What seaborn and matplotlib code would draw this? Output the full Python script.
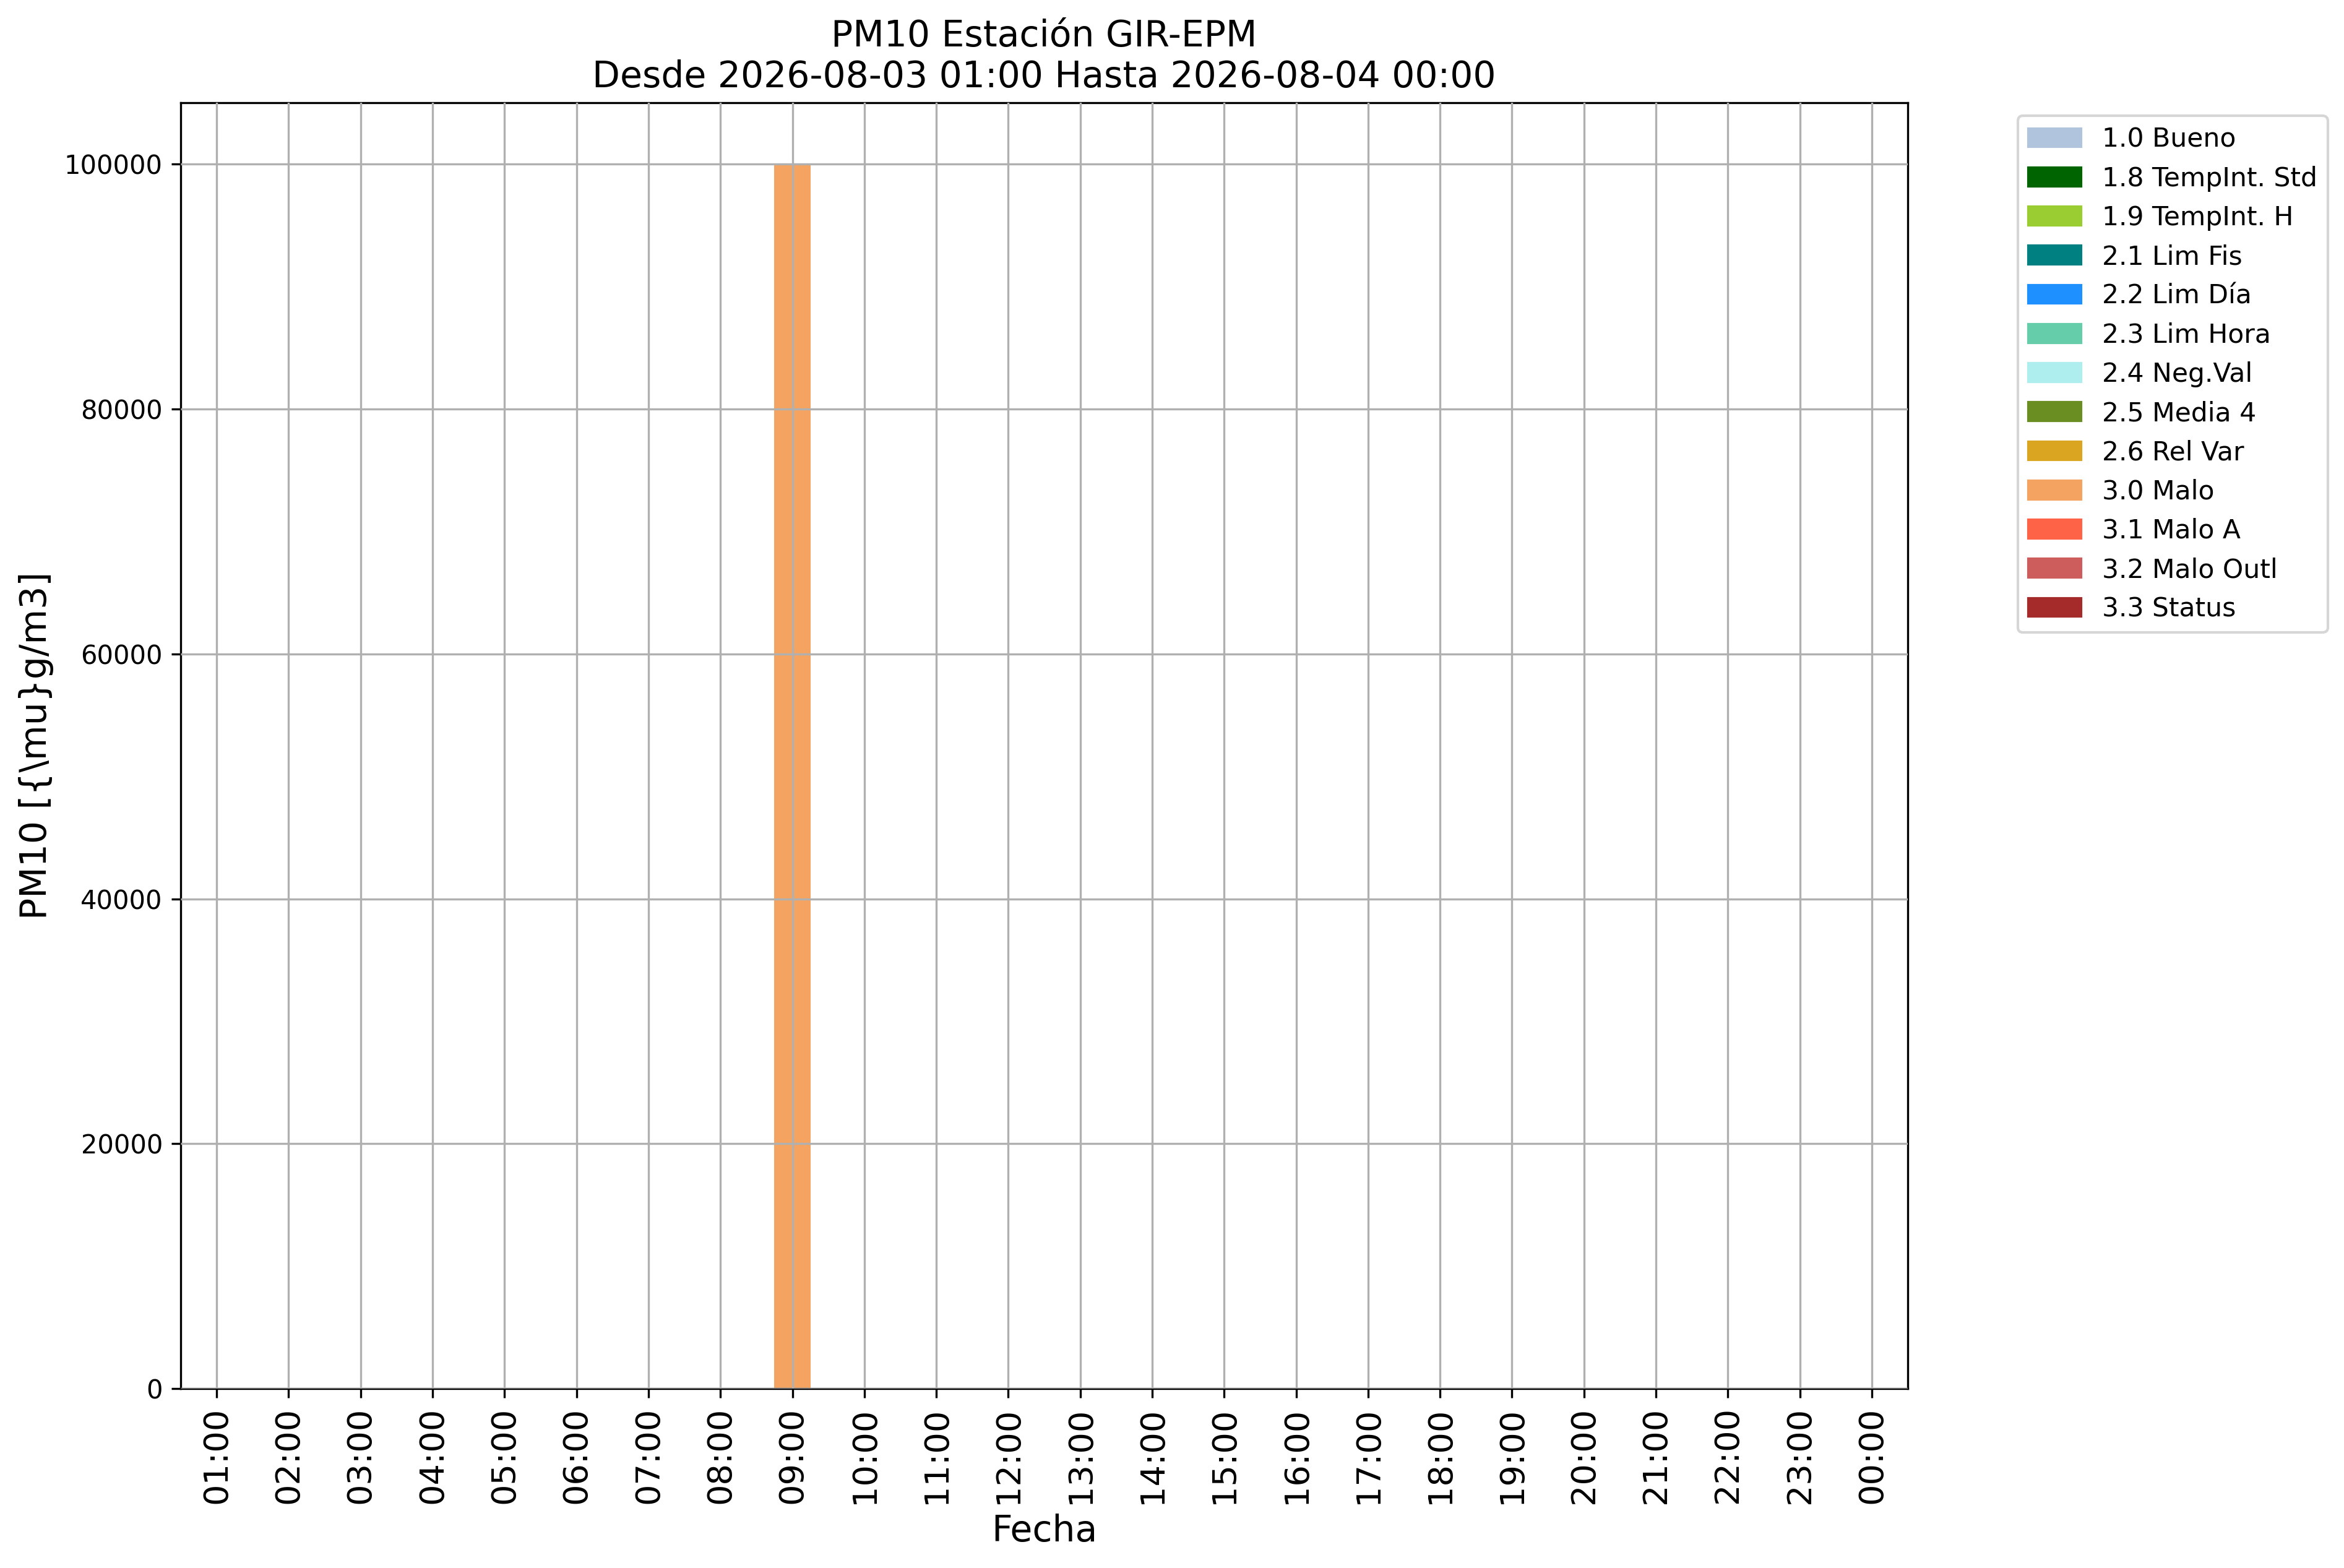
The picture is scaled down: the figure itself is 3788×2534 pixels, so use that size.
import matplotlib
matplotlib.use('Agg')
import matplotlib.pyplot as plt
import matplotlib.patches as mpatches
import pandas as pd
import seaborn as sns

horas = ['01:00', '02:00', '03:00', '04:00', '05:00', '06:00', '07:00', '08:00',
         '09:00', '10:00', '11:00', '12:00', '13:00', '14:00', '15:00', '16:00',
         '17:00', '18:00', '19:00', '20:00', '21:00', '22:00', '23:00', '00:00']

# solo hay un dato valido en el periodo
horas_dato = ['09:00']
valores = [100000]
flags_dato = ['3.0 Malo']

flags = ['1.0 Bueno', '1.8 TempInt. Std', '1.9 TempInt. H', '2.1 Lim Fis',
         '2.2 Lim Día', '2.3 Lim Hora', '2.4 Neg.Val', '2.5 Media 4',
         '2.6 Rel Var', '3.0 Malo', '3.1 Malo A', '3.2 Malo Outl', '3.3 Status']
colores = ['lightsteelblue', 'darkgreen', 'yellowgreen', 'teal', 'dodgerblue',
           'mediumaquamarine', 'paleturquoise', 'olivedrab', 'goldenrod',
           'sandybrown', 'tomato', 'indianred', 'brown']
paleta = dict(zip(flags, colores))

df = pd.DataFrame({'Fecha': horas_dato, 'valor': valores, 'flag': flags_dato})

fig = plt.figure(figsize=(3788 / 300, 2534 / 300), dpi=300)
ax = fig.add_axes([0.0771, 0.1144, 0.7368, 0.8200])

sns.barplot(data=df, x='Fecha', y='valor', hue='flag', order=horas,
            hue_order=flags, palette=paleta, dodge=False, width=0.5,
            saturation=1, legend=False, ax=ax)

ax.set_ylim(0, 105000)
ax.grid(True, color='#b0b0b0', linewidth=0.8)
ax.set_axisbelow(False)
ax.tick_params(axis='x', labelrotation=90, labelsize=13)
ax.tick_params(axis='y', labelsize=10)
ax.set_xlabel('Fecha', fontsize=14)
ax.set_ylabel('PM10 [{\\mu}g/m3]', fontsize=14)
ax.set_title('PM10 Estación GIR-EPM\nDesde 2026-08-03 01:00 Hasta 2026-08-04 00:00',
             fontsize=14)

handles = [mpatches.Patch(color=c, label=f) for f, c in zip(flags, colores)]
ax.legend(handles=handles, bbox_to_anchor=(1.056, 1), loc='upper left', fontsize=10.2)

plt.savefig('out.png', dpi=300)
